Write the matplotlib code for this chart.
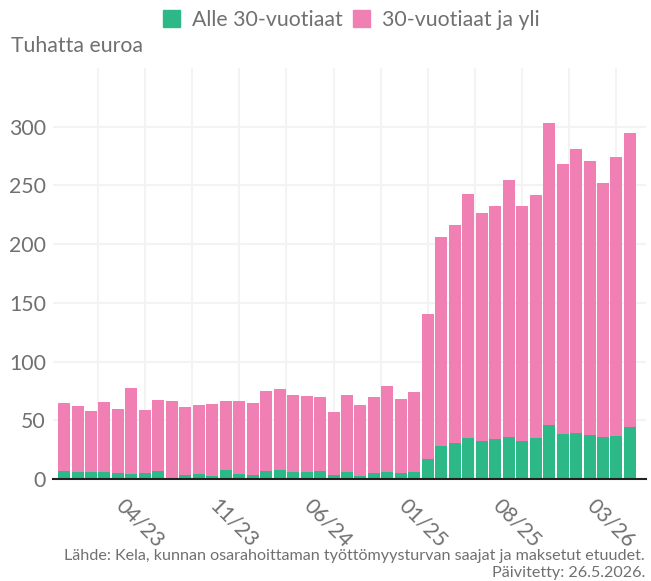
import numpy as np
import pandas as pd
import matplotlib
matplotlib.use("Agg")
import matplotlib.pyplot as plt
from matplotlib.patches import Patch

plt.rcParams['font.family'] = ['Lato', 'DejaVu Sans']

# monthly data, 10/2022 - 04/2026 (thousand euros)
months = pd.period_range("2022-10", periods=43, freq="M").strftime("%m/%y")
under30 = [6.8, 5.9, 5.9, 5.9, 5.1, 4.2, 5.1, 6.8, 0.8, 3.4, 4.2, 2.5, 7.6, 4.2,
           3.4, 6.8, 7.6, 5.9, 5.9, 6.8, 3.4, 5.9, 2.5, 5.1, 5.9, 5.1, 5.9, 17.0,
           28.0, 30.6, 34.8, 32.3, 34.0, 35.7, 32.3, 34.8, 45.9, 38.2, 39.1, 37.4,
           35.7, 36.5, 44.2]
total = [64.6, 62.0, 57.8, 65.4, 59.5, 77.3, 58.6, 67.1, 66.3, 61.2, 62.9, 63.7, 66.3, 66.3,
         64.6, 74.8, 76.5, 71.4, 70.5, 69.7, 56.9, 71.4, 62.9, 69.7, 79.0, 68.0, 73.9, 140.2,
         205.7, 216.7, 243.1, 226.9, 232.9, 255.0, 232.9, 242.2, 303.4, 268.5, 281.3, 271.1,
         252.4, 274.5, 294.9]
over30 = [t - u for t, u in zip(total, under30)]
tick_labels = ["04/23", "11/23", "06/24", "01/25", "08/25", "03/26"]

green = "#2cb887"
pink = "#f080b3"
grey = "#707070"

fig = plt.figure(figsize=(6.51, 5.81), dpi=100)
ax = fig.add_axes([53 / 651, 102 / 581, 593 / 651, 411 / 581])

x = np.arange(len(months))
ax.bar(x, under30, width=0.89, color=green, zorder=3)
ax.bar(x, over30, width=0.89, bottom=under30, color=pink, zorder=3)

ax.set_xlim(-0.82, 43.19)
ax.set_ylim(0, 350)
ax.set_yticks(range(0, 301, 50))

tick_pos = [list(months).index(t) for t in tick_labels]
# labels sit a little left of their month (rotated text)
ax.set_xticks([p - 0.4 for p in tick_pos])
ax.set_xticklabels(tick_labels, rotation=-45, ha="center", va="top")

# vertical grid every half label step
for g in np.arange(tick_pos[0] - 3.5, tick_pos[-1] + 0.1, 3.5):
    ax.axvline(g, color="#f3f3f3", lw=1.5, zorder=1)
ax.grid(axis="y", color="#f3f3f3", lw=1.5, zorder=1)

ax.tick_params(axis="both", length=0, labelsize=15.3, labelcolor=grey)
ax.tick_params(axis="x", pad=12)
ax.tick_params(axis="y", pad=5)
for s in ["top", "right", "left"]:
    ax.spines[s].set_visible(False)
ax.spines["bottom"].set_color("#222222")
ax.spines["bottom"].set_linewidth(1.5)
ax.spines["bottom"].set_zorder(4)

fig.text(11 / 651, 1 - 46 / 581, "Tuhatta euroa", fontsize=15.3, color=grey, va="center")

handles = [Patch(color=green, label="Alle 30-vuotiaat"),
           Patch(color=pink, label="30-vuotiaat ja yli")]
fig.legend(handles=handles, loc="center left", bbox_to_anchor=(163 / 651, 1 - 20 / 581),
           ncol=2, frameon=False, fontsize=15.3, labelcolor=grey, handlelength=0.8,
           handleheight=0.8, handletextpad=0.55, columnspacing=0.5, borderpad=0,
           borderaxespad=0)

fig.text(645 / 651, 1 - 556 / 581,
         "Lähde: Kela, kunnan osarahoittaman työttömyysturvan saajat ja maksetut etuudet.",
         fontsize=11.6, color=grey, ha="right", va="center")
fig.text(645 / 651, 1 - 573 / 581, "Päivitetty: 26.5.2026.",
         fontsize=11.6, color=grey, ha="right", va="center")

fig.savefig("out.png", dpi=100)
